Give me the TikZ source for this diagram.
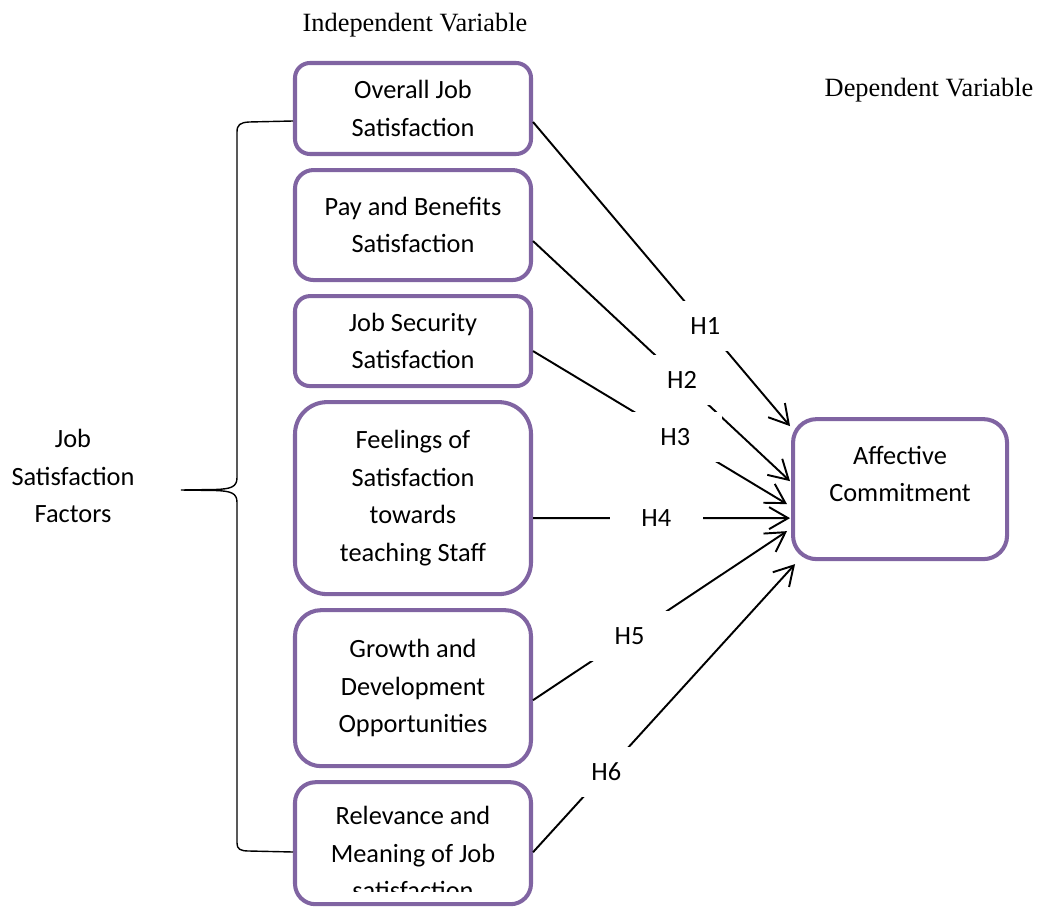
\documentclass[tikz,border=0pt]{standalone}
\usepackage{fontspec}
\setmainfont{Carlito}
\newfontfamily\timesface{Liberation Serif}
\usetikzlibrary{positioning,arrows.meta}
\definecolor{boxpurple}{HTML}{8064A2}

\begin{document}
\begin{tikzpicture}[node distance={2.4mm},
  factor/.style = {draw=boxpurple, line width=2.3pt, rounded corners=#1, minimum width=4.72cm, align=center, inner sep=0pt, font=\fontsize{15}{21.3}\selectfont},
  hyp/.style = {fill=white, minimum width=1.86cm, minimum height=1cm, font=\fontsize{15}{18}\selectfont},
  heading/.style = {font=\timesface\fontsize{15}{18}\selectfont}]
\useasboundingbox (0,0) rectangle (20.76,-18.16);
\clip (0,0) rectangle (20.76,-18.16);

\node[heading] (indep) at (8.30,-0.50) {Independent Variable};
\node[heading] (dep)   at (18.58,-1.80) {Dependent Variable};

\node[factor=3mm, minimum height=1.82cm] (overall) at (8.26,-2.17) {Overall Job\\Satisfaction};
\node[factor=3.7mm, minimum height=2.20cm] (pay) [below=of overall] {Pay and Benefits\\Satisfaction};
\node[factor=3mm, minimum height=1.80cm] (security) [below=of pay] {Job Security\\Satisfaction};
\node[factor=6.4mm, minimum height=3.84cm] (feelings) [below=of security] {Feelings of\\Satisfaction\\towards\\teaching Staff};
\node[factor=5.2mm, minimum height=3.12cm] (growth) [below=of feelings] {Growth and\\Development\\Opportunities};
\node[factor=4.1mm, minimum height=2.44cm] (relevance) [below=of growth,
  path picture={
    \node[anchor=center, align=center, font=\fontsize{15}{21.3}\selectfont] (relevtext) at ([yshift=-0.2cm]path picture bounding box.center) {Relevance and\\Meaning of Job\\satisfaction};
    \fill[white] (path picture bounding box.south west) rectangle ([yshift=0.24cm]path picture bounding box.south east);
  }] {};

\node[factor=4.7mm, minimum width=4.28cm, minimum height=2.80cm,
  label={[align=center, yshift=0.3cm, font=\fontsize{15}{21.3}\selectfont]center:{Affective\\Commitment}}]
  (affect) [right=5.16cm of feelings, yshift=0.18cm] {};

\node[align=center, font=\fontsize{15}{21.3}\selectfont] (factors) at (1.46,-9.52) {Job\\Satisfaction\\Factors};

% brace round the six factors
\draw[line width=0.8pt] (5.86,-2.42) -- (4.98,-2.44)
  .. controls (4.80,-2.45) and (4.74,-2.50) .. (4.74,-2.64) -- (4.74,-9.55)
  .. controls (4.74,-9.74) and (4.62,-9.78) .. (4.30,-9.79) -- (3.62,-9.80)
  -- (4.30,-9.81) .. controls (4.62,-9.82) and (4.74,-9.86) .. (4.74,-10.05)
  -- (4.74,-16.86) .. controls (4.74,-16.98) and (4.80,-17.02) .. (4.98,-17.02) -- (5.86,-17.04);

\draw[->, >={Straight Barb[length=3.8mm,width=4.4mm]}, line width=1.1pt] ([yshift=-0.27cm]overall.east) -- node[hyp, pos=0.67] (h1) {H1} ([xshift=-0.02cm,yshift=1.26cm]affect.west);
\draw[->, >={Straight Barb[length=3.8mm,width=4.4mm]}, line width=1.1pt] ([yshift=-0.32cm]pay.east) -- node[hyp, pos=0.58] (h2) {H2} ([xshift=-0.02cm,yshift=0.16cm]affect.west);
\draw[->, >={Straight Barb[length=3.8mm,width=4.4mm]}, line width=1.1pt] ([yshift=-0.20cm]security.east) -- node[hyp, pos=0.56] (h3) {H3} ([xshift=-0.08cm,yshift=-0.30cm]affect.west);
\draw[->, >={Straight Barb[length=3.8mm,width=4.4mm]}, line width=1.1pt] ([yshift=-0.40cm]feelings.east) -- node[hyp, pos=0.48] (h4) {H4} ([xshift=-0.02cm,yshift=-0.58cm]affect.west);
\draw[->, >={Straight Barb[length=3.8mm,width=4.4mm]}, line width=1.1pt] ([yshift=-0.24cm]growth.east) -- node[hyp, pos=0.38] (h5) {H5} ([xshift=-0.08cm,yshift=-0.84cm]affect.west);
\draw[->, >={Straight Barb[length=3.8mm,width=4.4mm]}, line width=1.1pt] ([yshift=-0.18cm]relevance.east) -- node[hyp, pos=0.28] (h6) {H6} ([xshift=0.08cm,yshift=-1.50cm]affect.west);

\end{tikzpicture}
\end{document}
